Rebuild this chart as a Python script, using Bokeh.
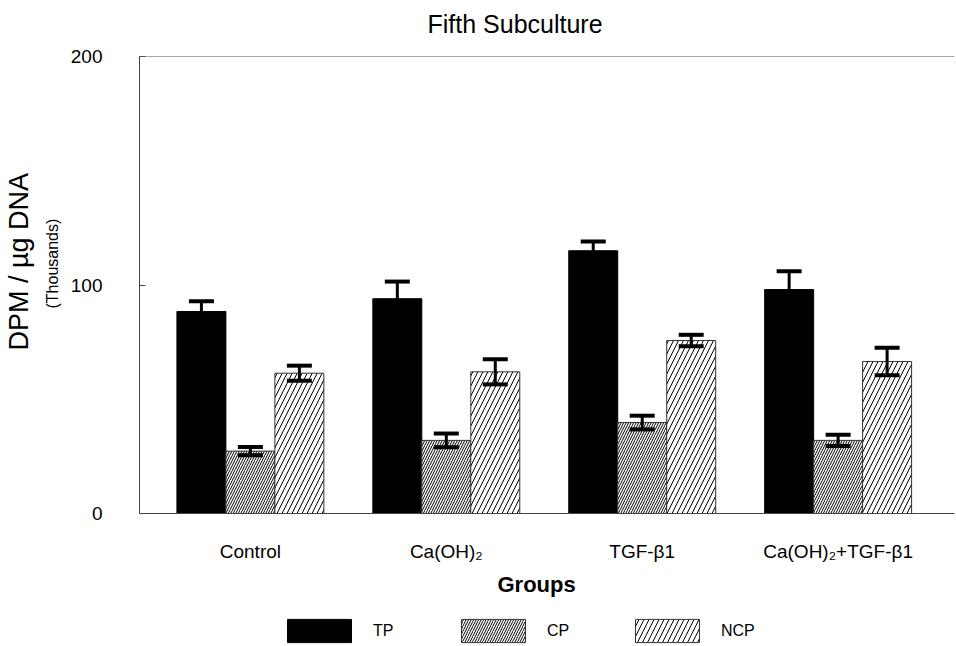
from bokeh.plotting import figure
from bokeh.layouts import column
from bokeh.models import (Range1d, FixedTicker, Whisker, TeeHead, ColumnDataSource,
                          Legend, LegendItem, Title, Span)
from bokeh.embed import file_html
from bokeh.resources import INLINE

# ---- data ----
groups = ["Control", "Ca(OH)\u2082", "TGF-\u03b21", "Ca(OH)\u2082+TGF-\u03b21"]
series = ["TP", "CP", "NCP"]
tp = [88.4, 94.0, 115.0, 98.0]
tp_err = [4.5, 7.5, 4.0, 8.0]
cp = [27.3, 32.0, 39.8, 32.0]
cp_err = [1.8, 3.0, 3.0, 2.5]
ncp = [61.4, 62.0, 75.7, 66.5]
ncp_err = [3.3, 5.5, 2.5, 6.0]
y_ticks = [0, 100, 200]

FONT = "Liberation Sans"
BW = 0.25
offsets = [-BW, 0.0, BW]
centers = [i + 1 for i in range(len(groups))]
all_vals = [(tp, tp_err), (cp, cp_err), (ncp, ncp_err)]

W = 956
p = figure(width=W, height=606, output_backend="svg", toolbar_location=None,
           x_range=Range1d(0.434, 4.594), y_range=Range1d(0, 200),
           min_border_left=139, min_border_right=2, min_border_top=56,
           min_border_bottom=93)
p.outline_line_color = None
p.xgrid.visible = False
p.ygrid.visible = False

styles = [
    dict(fill_color="black", line_color="black"),
    dict(fill_color="white", line_color="#333333", hatch_pattern="/", hatch_scale=5,
         hatch_weight=1, hatch_color="black"),
    dict(fill_color="white", line_color="#333333", hatch_pattern="/", hatch_scale=10,
         hatch_weight=1, hatch_color="black"),
]

sources = []
for k, (vals, errs) in enumerate(all_vals):
    xs = [c + offsets[k] for c in centers]
    src = ColumnDataSource(dict(x=xs, top=vals,
                                upper=[v + e for v, e in zip(vals, errs)],
                                lower=[v - e for v, e in zip(vals, errs)]))
    sources.append(src)
    p.vbar(x="x", top="top", bottom=0, width=BW, source=src, line_width=1, **styles[k])
    w = Whisker(base="x", upper="upper", lower="lower", source=src,
                line_color="black", line_width=3,
                upper_head=TeeHead(size=25, line_width=4, line_color="black"),
                lower_head=TeeHead(size=25, line_width=4, line_color="black"))
    w.level = "overlay"
    p.add_layout(w)

# top frame line
p.add_layout(Span(location=200, dimension="width", line_color="#555555", line_width=1))

# y axis
ya = p.yaxis[0]
ya.ticker = FixedTicker(ticks=y_ticks)
ya.major_tick_in = 6
ya.major_tick_out = 0
ya.minor_tick_line_color = None
ya.axis_line_color = "#444444"
ya.major_tick_line_color = "#444444"
ya.major_label_text_font = FONT
ya.major_label_text_font_size = "19px"
ya.major_label_text_color = "black"
ya.major_label_standoff = 37

# x axis
xa = p.xaxis[0]
xa.ticker = FixedTicker(ticks=centers)
xa.major_label_overrides = {c: g for c, g in zip(centers, groups)}
xa.major_tick_in = 0
xa.major_tick_out = 0
xa.minor_tick_line_color = None
xa.axis_line_color = "#444444"
xa.major_label_text_font = FONT
xa.major_label_text_font_size = "19px"
xa.major_label_text_color = "black"
xa.major_label_standoff = 27

# title (a thin spacer between title and frame lifts it upward)
p.add_layout(Title(text=" ", text_font_size="1px", standoff=10), "above")
p.title.text = "Fifth Subculture"
p.title.align = "left"
p.title.offset = 288
p.title.text_font = FONT
p.title.text_font_size = "25px"
p.title.text_font_style = "normal"
p.title.text_color = "black"
p.title.standoff = 11

# y axis labels as titles on the left
p.add_layout(Title(text="(Thousands)", align="left", offset=205, text_font=FONT,
                   text_font_size="16px", text_font_style="normal", text_color="black",
                   standoff=14), "left")
p.add_layout(Title(text="DPM / \u00b5g DNA", align="left", offset=163, text_font=FONT,
                   text_font_size="27px", text_font_style="normal", text_color="black",
                   standoff=2), "left")

# x axis label
p.add_layout(Title(text="Groups", align="left", offset=358, text_font=FONT,
                   text_font_size="22px", text_font_style="bold", text_color="black",
                   standoff=11), "below")

# ---- legend strip (hidden proxy renderers supply the swatches) ----
lg = figure(width=W, height=40, output_backend="svg", toolbar_location=None,
            x_range=Range1d(0.434, 4.594), y_range=Range1d(0, 200),
            x_axis_location=None, y_axis_location=None,
            min_border_left=139, min_border_right=2, min_border_top=0, min_border_bottom=0)
lg.xgrid.visible = False
lg.ygrid.visible = False
lg.outline_line_color = None

proxies = []
for k in range(len(series)):
    r = lg.vbar(x="x", top="top", bottom=0, width=BW, source=sources[k],
                line_width=1, **styles[k])
    r.visible = False
    proxies.append(r)

legend = Legend(items=[LegendItem(label=s, renderers=[r]) for s, r in zip(series, proxies)],
                orientation="horizontal", location=(140, 1),
                glyph_width=80, glyph_height=29, label_standoff=14, label_width=80,
                label_height=29, spacing=0, padding=0, margin=0,
                border_line_color=None, background_fill_alpha=0,
                inactive_fill_alpha=0,
                label_text_font=FONT, label_text_font_size="16px",
                label_text_color="black")
lg.add_layout(legend)

layout = column(p, lg, spacing=0)
open("out.html", "w").write(file_html(layout, INLINE))
